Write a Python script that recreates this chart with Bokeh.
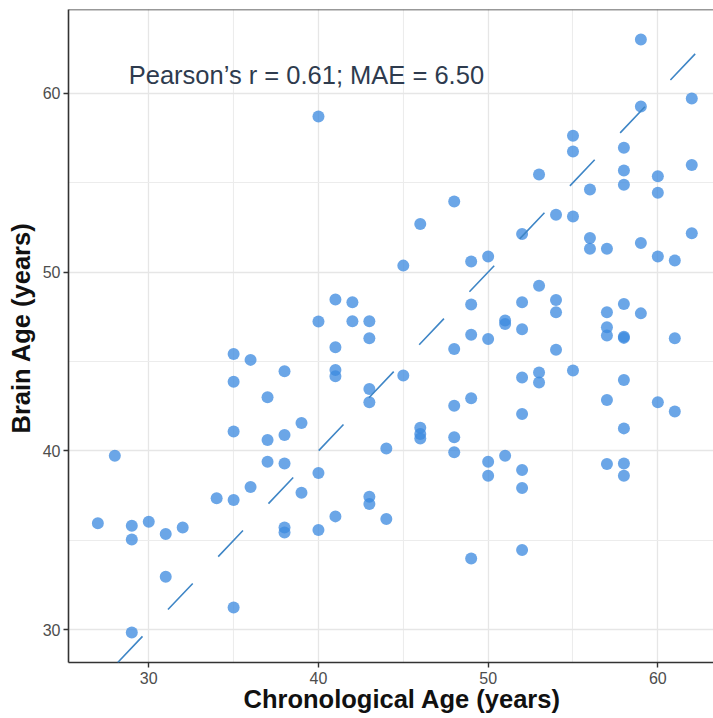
from bokeh.plotting import figure
from bokeh.models import Range1d, SingleIntervalTicker, Span, Label, Slope, ColumnDataSource, Title
from bokeh.embed import file_html
from bokeh.resources import INLINE

# Chronological age (x) and predicted brain age (y)
chrono_age = [
    40, 41, 42, 40, 42, 43, 43,
    59, 62, 59, 55, 55, 58, 58, 58, 60, 60, 62, 53, 56, 48, 46, 54, 55, 56, 56, 57,
    52, 59, 62, 60, 61, 45, 49, 50, 53, 49, 52, 54, 54, 51, 51, 52, 49, 50, 57, 58,
    59, 57, 57, 58, 58, 61,
    41, 35, 36, 38, 41, 41, 35, 43, 43, 37, 39, 35, 37, 38, 44, 28, 37, 38, 40, 36,
    39, 34, 35, 43, 43, 44, 41, 27, 29, 30, 29, 31, 32, 38, 38, 40, 31, 35, 29,
    48, 54, 55, 45, 52, 53, 53, 58, 48, 49, 52, 57, 60, 61, 46, 46, 46, 48, 48, 58,
    50, 51, 50, 52, 52, 57, 58, 58, 49, 52,
]
brain_age = [
    58.7, 48.46, 48.31, 47.23, 47.25, 47.25, 46.3,
    63.0, 59.7, 59.26, 57.62, 56.74, 56.95, 55.68, 54.88, 55.36, 54.43, 55.99, 55.45,
    54.61, 53.94, 52.69, 53.2, 53.1, 51.91, 51.3, 51.3,
    52.13, 51.63, 52.17, 50.87, 50.64, 50.36, 50.59, 50.87, 49.24, 48.18, 48.31, 48.44,
    47.75, 47.29, 47.1, 46.8, 46.5, 46.26, 47.75, 48.22,
    47.69, 46.91, 46.45, 46.38, 46.32, 46.3,
    45.79, 45.42, 45.09, 44.45, 44.53, 44.17, 43.87, 43.46, 42.72, 43.0, 41.56, 41.09,
    40.61, 40.89, 40.14, 39.73, 39.4, 39.3, 38.77, 37.98,
    37.66, 37.35, 37.26, 37.44, 37.03, 36.19, 36.34, 35.95, 35.82, 36.04, 35.05, 35.35,
    35.72, 35.72, 35.44, 35.58, 32.97, 31.25, 29.85,
    45.7, 45.65, 44.49, 44.21, 44.11, 44.39, 43.83, 43.97, 42.53, 42.94, 42.07, 42.85,
    42.72, 42.2, 41.3, 40.95, 40.7, 40.76, 39.92, 41.26,
    39.4, 39.73, 38.61, 38.93, 37.93, 39.27, 39.3, 38.61, 33.99, 34.46,
]

annotation = "Pearson’s r = 0.61; MAE = 6.50"
x_title = "Chronological Age (years)"
y_title = "Brain Age (years)"

x_lo, x_hi = 25.27, 63.28
y_lo, y_hi = 28.17, 64.68

src = ColumnDataSource(data=dict(x=chrono_age, y=brain_age))

p = figure(width=713, height=718, output_backend="svg", toolbar_location=None,
           x_range=Range1d(x_lo, x_hi), y_range=Range1d(y_lo, y_hi),
           min_border_left=68, min_border_right=0, min_border_top=9, min_border_bottom=56)
p.outline_line_color = None
p.background_fill_color = "white"
p.border_fill_color = "white"

# identity line
p.add_layout(Slope(gradient=1, y_intercept=0, line_color="#3f86c6", line_width=1.6,
                   line_dash="36 37"))

p.scatter("x", "y", source=src, size=12, fill_color="#3d8ae0", fill_alpha=0.76,
          line_color=None)

for ax in (p.xaxis[0], p.yaxis[0]):
    ax.ticker = SingleIntervalTicker(interval=10, num_minor_ticks=2)
    ax.major_label_text_font = "Liberation Sans"
    ax.major_label_text_font_size = "16px"
    ax.major_label_text_color = "#4d4d4d"
    ax.axis_line_color = "#333333"
    ax.axis_line_width = 1.6
    ax.major_tick_line_color = "#333333"
    ax.major_tick_line_width = 1.4
    ax.major_tick_in = 0
    ax.major_tick_out = 5
    ax.minor_tick_line_color = None

p.xaxis.major_label_standoff = 4
p.yaxis.major_label_standoff = 3

for g in (p.xgrid[0], p.ygrid[0]):
    g.grid_line_color = "#e6e6e6"
    g.grid_line_width = 1.3
    g.minor_grid_line_color = "#ececec"
    g.minor_grid_line_width = 1.1

p.add_layout(Span(location=y_hi, dimension="width", line_color="#333333", line_width=1.6))

p.add_layout(Label(x=28.82, y=61.02, text=annotation, text_font="Liberation Sans",
                   text_font_size="25.5px", text_color="#2e3b4e",
                   text_baseline="middle", text_align="left"))

# axis titles as side titles (left-aligned with a pixel offset along the axis)
p.add_layout(Title(text=x_title, align="left", offset=175, standoff=-7,
                   text_font="Liberation Sans", text_font_size="25.5px",
                   text_font_style="bold", text_color="#111111"), "below")
p.add_layout(Title(text=y_title, align="left", offset=229, standoff=9,
                   text_font="Liberation Sans", text_font_size="25.5px",
                   text_font_style="bold", text_color="#111111"), "left")

open("out.html", "w").write(file_html(p, INLINE))
